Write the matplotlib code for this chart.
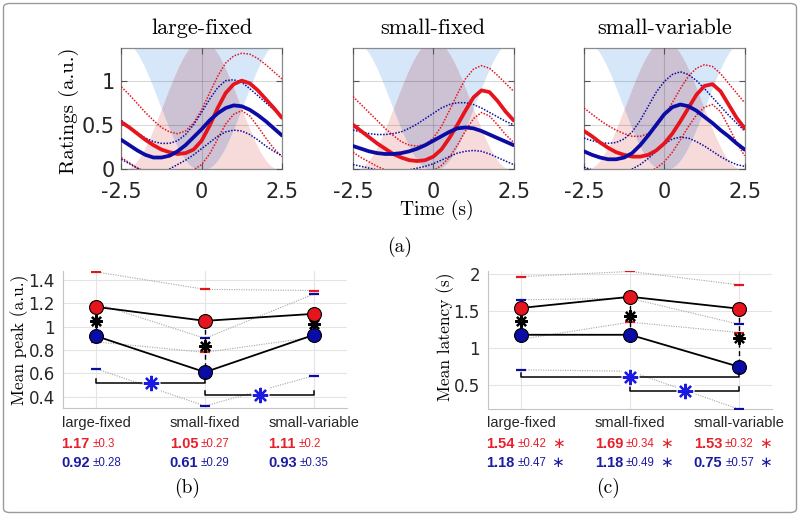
import numpy as np
import matplotlib
matplotlib.use('Agg')
import matplotlib.pyplot as plt
from matplotlib.patches import FancyBboxPatch
from matplotlib.ticker import FuncFormatter

# ---------------- data ----------------
conditions = ['large-fixed', 'small-fixed', 'small-variable']
time_s = np.linspace(-2.5, 2.5, 21)

# (a) ratings over time: thick = mean, dotted = mean +/- sd
red_mean = {
    'large-fixed':    [0.53, 0.47, 0.40, 0.33, 0.27, 0.22, 0.19, 0.17, 0.18, 0.22, 0.32, 0.49, 0.69, 0.86, 0.96, 1.00, 0.97, 0.89, 0.79, 0.69, 0.58],
    'small-fixed':    [0.50, 0.43, 0.36, 0.29, 0.23, 0.17, 0.13, 0.10, 0.09, 0.10, 0.14, 0.22, 0.35, 0.50, 0.66, 0.81, 0.89, 0.87, 0.77, 0.65, 0.55],
    'small-variable': [0.43, 0.37, 0.30, 0.24, 0.19, 0.16, 0.14, 0.14, 0.16, 0.21, 0.29, 0.40, 0.54, 0.69, 0.84, 0.94, 0.96, 0.88, 0.73, 0.58, 0.46],
}
red_upper = {
    'large-fixed':    [0.93, 0.84, 0.74, 0.64, 0.55, 0.47, 0.42, 0.40, 0.43, 0.52, 0.67, 0.86, 1.05, 1.20, 1.28, 1.31, 1.30, 1.25, 1.18, 1.10, 1.02],
    'small-fixed':    [0.82, 0.73, 0.64, 0.55, 0.46, 0.38, 0.31, 0.27, 0.26, 0.28, 0.35, 0.48, 0.66, 0.85, 1.02, 1.13, 1.17, 1.14, 1.06, 0.97, 0.88],
    'small-variable': [0.69, 0.62, 0.55, 0.49, 0.44, 0.40, 0.37, 0.37, 0.40, 0.48, 0.60, 0.75, 0.91, 1.05, 1.14, 1.18, 1.16, 1.08, 0.97, 0.86, 0.75],
}
red_lower = {
    'large-fixed':    [0.13, 0.07, 0.01, -0.03, -0.06, -0.08, -0.08, -0.07, -0.05, -0.01, 0.05, 0.17, 0.34, 0.51, 0.62, 0.66, 0.60, 0.48, 0.35, 0.23, 0.14],
    'small-fixed':    [0.19, 0.13, 0.08, 0.03, -0.01, -0.04, -0.05, -0.06, -0.06, -0.05, -0.02, 0.04, 0.13, 0.27, 0.43, 0.57, 0.64, 0.60, 0.50, 0.39, 0.30],
    'small-variable': [0.02, -0.02, -0.06, -0.09, -0.10, -0.10, -0.09, -0.07, -0.04, 0.01, 0.08, 0.19, 0.33, 0.48, 0.61, 0.70, 0.73, 0.65, 0.48, 0.30, 0.15],
}
blue_mean = {
    'large-fixed':    [0.33, 0.27, 0.21, 0.16, 0.13, 0.13, 0.15, 0.20, 0.27, 0.36, 0.45, 0.55, 0.63, 0.69, 0.72, 0.71, 0.67, 0.61, 0.54, 0.46, 0.38],
    'small-fixed':    [0.26, 0.23, 0.20, 0.18, 0.17, 0.17, 0.18, 0.20, 0.23, 0.27, 0.32, 0.37, 0.42, 0.46, 0.47, 0.46, 0.43, 0.39, 0.35, 0.31, 0.27],
    'small-variable': [0.20, 0.16, 0.13, 0.11, 0.11, 0.13, 0.18, 0.27, 0.38, 0.50, 0.62, 0.70, 0.73, 0.71, 0.66, 0.59, 0.52, 0.44, 0.37, 0.29, 0.22],
}
blue_upper = {
    'large-fixed':    [0.55, 0.48, 0.41, 0.35, 0.31, 0.29, 0.29, 0.32, 0.39, 0.50, 0.64, 0.79, 0.92, 1.00, 1.01, 0.98, 0.91, 0.83, 0.75, 0.67, 0.59],
    'small-fixed':    [0.44, 0.42, 0.40, 0.39, 0.39, 0.40, 0.42, 0.46, 0.51, 0.57, 0.63, 0.69, 0.73, 0.75, 0.75, 0.73, 0.69, 0.64, 0.59, 0.54, 0.50],
    'small-variable': [0.35, 0.32, 0.30, 0.29, 0.30, 0.34, 0.42, 0.55, 0.71, 0.87, 0.99, 1.07, 1.10, 1.07, 1.00, 0.91, 0.81, 0.71, 0.61, 0.52, 0.43],
}
blue_lower = {
    'large-fixed':    [0.11, 0.06, 0.01, -0.03, -0.05, -0.04, 0.00, 0.05, 0.10, 0.16, 0.23, 0.30, 0.37, 0.42, 0.44, 0.43, 0.39, 0.33, 0.26, 0.20, 0.15],
    'small-fixed':    [0.05, 0.03, 0.01, -0.01, -0.02, -0.02, -0.02, -0.01, 0.01, 0.03, 0.06, 0.10, 0.14, 0.18, 0.20, 0.21, 0.20, 0.17, 0.13, 0.09, 0.05],
    'small-variable': [0.02, -0.01, -0.03, -0.04, -0.04, -0.03, 0.00, 0.05, 0.12, 0.20, 0.28, 0.34, 0.36, 0.35, 0.31, 0.26, 0.20, 0.14, 0.09, 0.05, 0.03],
}

# stimulus profile drawn as background (raised cosine)
stim_height = 1.46
stim_halfwidth = 2.4

# (b) mean peak
peak_red_mean = np.array([1.17, 1.05, 1.11])
peak_red_sd = np.array([0.30, 0.27, 0.20])
peak_blue_mean = np.array([0.92, 0.61, 0.93])
peak_blue_sd = np.array([0.28, 0.29, 0.35])
peak_sig_pairs = [(1, 2, 0.52), (2, 3, 0.41)]
peak_flags = [False, False, False]

# (c) mean latency
lat_red_mean = np.array([1.54, 1.69, 1.53])
lat_red_sd = np.array([0.42, 0.34, 0.32])
lat_blue_mean = np.array([1.18, 1.18, 0.75])
lat_blue_sd = np.array([0.47, 0.49, 0.57])
lat_sig_pairs = [(1, 3, 0.62), (2, 3, 0.43)]
lat_flags = [True, True, True]

# ---------------- style ----------------
RED = '#e6141c'
BLUE = '#0b0ba6'
TXT_RED = '#e8202a'
TXT_BLUE = '#1c1ca2'
BG_BLUE = '#d6e7f9'
BG_PINK = '#f7dada'
BG_GRAY = '#ccc2d4'
SANS = 'Liberation Sans'
SERIF = 'cmr10'

W, H = 800, 516
fig = plt.figure(figsize=(W / 100, H / 100), dpi=100)


def rect(l, t, r, b):
    return [l / W, 1 - b / H, (r - l) / W, (b - t) / H]


def stim(x):
    x = np.asarray(x)
    return np.where(np.abs(x) < stim_halfwidth,
                    stim_height * (1 + np.cos(np.pi * x / stim_halfwidth)) / 2, 0.0)


fmt = FuncFormatter(lambda v, p: '%g' % v)

# ---------------- (a) ----------------
lefts = [121.3, 353.0, 584.0]
xs = np.linspace(-2.5, 2.5, 601)
p = stim(xs)
b = stim(2.5 - np.abs(xs))
for i, cond in enumerate(conditions):
    ax = fig.add_axes(rect(lefts[i], 47.5, lefts[i] + 160.6, 169.0))
    ax.fill_between(xs, np.maximum(p, b), 3, color=BG_BLUE, lw=0, zorder=0.5)
    ax.fill_between(xs, 0, np.minimum(p, b), color=BG_PINK, lw=0, zorder=0.5)
    ax.fill_between(xs, b, p, where=p > b, interpolate=True, color=BG_GRAY, lw=0, zorder=0.5)
    dot = (0, (1, 1))
    ax.plot(time_s, red_upper[cond], color=RED, lw=1.1, ls=dot, zorder=3)
    ax.plot(time_s, red_lower[cond], color=RED, lw=1.1, ls=dot, zorder=3)
    ax.plot(time_s, blue_upper[cond], color=BLUE, lw=1.1, ls=dot, zorder=3)
    ax.plot(time_s, blue_lower[cond], color=BLUE, lw=1.1, ls=dot, zorder=3)
    ax.plot(time_s, red_mean[cond], color=RED, lw=2.7, zorder=4, solid_capstyle='round')
    ax.plot(time_s, blue_mean[cond], color=BLUE, lw=2.7, zorder=4, solid_capstyle='round')
    ax.set_xlim(-2.5, 2.5)
    ax.set_ylim(0, 1.375)
    ax.set_xticks([-2.5, 0, 2.5])
    ax.set_yticks([0, 0.5, 1])
    ax.xaxis.set_major_formatter(fmt)
    ax.yaxis.set_major_formatter(fmt)
    ax.grid(True, color='k', alpha=0.15, lw=0.8)
    ax.set_axisbelow(False)
    ax.tick_params(direction='in', length=4, width=0.8, color='#555555',
                   top=True, right=True, labelsize=15, labelcolor='#262626')
    ax.tick_params(axis='x', pad=9)
    ax.tick_params(axis='y', pad=4.5, labelleft=(i == 0))
    for s in ax.spines.values():
        s.set_color('#8a8a8a')
        s.set_linewidth(0.9)
    fig.text((lefts[i] + 80.3) / W, 1 - 28 / H, cond, family=SERIF, fontsize=16,
             ha='center', va='center')

fig.text(69 / W, 1 - 111 / H, 'Ratings (a.u.)', family=SERIF, fontsize=15,
         rotation=90, ha='center', va='center')
fig.text(437 / W, 1 - 210 / H, 'Time (s)', family=SERIF, fontsize=14,
         ha='center', va='center')
fig.text(400 / W, 1 - 247 / H, '(a)', family=SERIF, fontsize=14,
         ha='center', va='center')


# ---------------- (b), (c) ----------------
def stats_panel(ax, rm, rsd, bm, bsd, ylim, yticks, sig_pairs, flags, br_h):
    x = np.arange(1, len(conditions) + 1)
    ru, rl, bu, bl = rm + rsd, rm - rsd, bm + bsd, bm - bsd
    for arr in (ru, rl, bu, bl):
        ax.plot(x, arr, ls=(0, (1, 1.2)), color='#a5a5a5', lw=0.8, zorder=2)
    for arr, c in ((ru, RED), (rl, RED), (bu, BLUE), (bl, BLUE)):
        ax.plot(x, arr, ls='none', marker='_', ms=7, mew=1.6, color=c, zorder=3)
    for xi, r, bb in zip(x, rm, bm):
        ax.plot([xi, xi], [r, bb], ls=(0, (3.5, 2.5)), color='k', lw=1.0, zorder=3)
    ax.plot(x, (rm + bm) / 2, ls='none', marker=(8, 2, 0), ms=9, mew=1.6,
            color='k', zorder=4)
    ax.plot(x, rm, '-', color='k', lw=1.3, marker='o', ms=10, mfc=RED, mec='k',
            mew=0.8, zorder=5)
    ax.plot(x, bm, '-', color='k', lw=1.3, marker='o', ms=10, mfc=BLUE, mec='k',
            mew=0.8, zorder=5)
    for x1, x2, yb in sig_pairs:
        ax.plot([x1, x1, x2, x2], [yb + br_h, yb, yb, yb + br_h], color='k', lw=1.1,
                zorder=5)
        xm = (x1 + x2) / 2
        ax.plot([xm], [yb], ls='none', marker='s', ms=13, mfc='white', mec='none',
                zorder=6)
        ax.plot([xm], [yb], ls='none', marker=(8, 2, 0), ms=11, mew=1.6,
                color='#1a1ae0', zorder=7)
    ax.set_xlim(0.7, 3.3)
    ax.set_ylim(*ylim)
    ax.set_xticks(x)
    ax.set_xticklabels([])
    ax.set_yticks(yticks)
    ax.yaxis.set_major_formatter(fmt)
    ax.grid(True, color='#e4e4e4', lw=0.8, zorder=0)
    ax.set_axisbelow(True)
    ax.tick_params(length=0, labelsize=12, labelcolor='#262626', pad=6)
    for side in ('top', 'right'):
        ax.spines[side].set_visible(False)
    for side in ('left', 'bottom'):
        ax.spines[side].set_color('#c4c4c4')
        ax.spines[side].set_linewidth(0.8)

    for xi, cond, r, rs, bmv, bs, fl in zip(x, conditions, rm, rsd, bm, bsd, flags):
        cat = ax.annotate(cond, xy=(xi, H - 423), xycoords=('data', 'figure pixels'),
                          ha='center', va='center', fontsize=10.5, family=SANS,
                          color='#262626', annotation_clip=False)
        for val, sd, ypix, col in ((r, rs, 444.3, TXT_RED), (bmv, bs, 463.3, TXT_BLUE)):
            num = ax.annotate('%.2f' % val, xy=(0, H - ypix),
                              xycoords=(cat, 'figure pixels'), ha='left', va='center',
                              fontsize=10.5, fontweight='bold', family=SANS, color=col,
                              annotation_clip=False)
            pm = ax.annotate('\u00b1%g' % sd, xy=(1, 0), xycoords=num,
                             xytext=(2, 0.6), textcoords='offset points',
                             ha='left', va='bottom', fontsize=8.3, family=SANS,
                             color=col, annotation_clip=False)
            if fl:
                ax.annotate('\u2217', xy=(1, 0), xycoords=pm, xytext=(3.5, -0.6),
                            textcoords='offset points', ha='left', va='bottom',
                            fontsize=11, family='DejaVu Sans', color=col,
                            annotation_clip=False)


axb = fig.add_axes(rect(63.3, 270.7, 346.7, 408.3))
stats_panel(axb, peak_red_mean, peak_red_sd, peak_blue_mean, peak_blue_sd,
            (0.30, 1.48), [0.4, 0.6, 0.8, 1.0, 1.2, 1.4], peak_sig_pairs, peak_flags, 0.035)
axc = fig.add_axes(rect(488.3, 270.7, 772.0, 409.3))
stats_panel(axc, lat_red_mean, lat_red_sd, lat_blue_mean, lat_blue_sd,
            (0.18, 2.04), [0.5, 1.0, 1.5, 2.0], lat_sig_pairs, lat_flags, 0.045)

fig.text(19.5 / W, 1 - 340 / H, 'Mean peak (a.u.)', family=SERIF, fontsize=12.5,
         rotation=90, ha='center', va='center')
fig.text(445.5 / W, 1 - 336.7 / H, 'Mean latency (s)', family=SERIF, fontsize=12.5,
         rotation=90, ha='center', va='center')
fig.text(186.7 / W, 1 - 488.3 / H, '(b)', family=SERIF, fontsize=14,
         ha='center', va='center')
fig.text(608.3 / W, 1 - 488.3 / H, '(c)', family=SERIF, fontsize=14,
         ha='center', va='center')

# outer rounded frame
frame = FancyBboxPatch((3.5 / W, 3.5 / H), (W - 7) / W, (H - 7) / H,
                       boxstyle='round,pad=0,rounding_size=0.008',
                       transform=fig.transFigure, fill=False, edgecolor='#9a9a9a',
                       lw=1.0, zorder=10)
fig.patches.append(frame)

fig.savefig('out.png', dpi=100)
